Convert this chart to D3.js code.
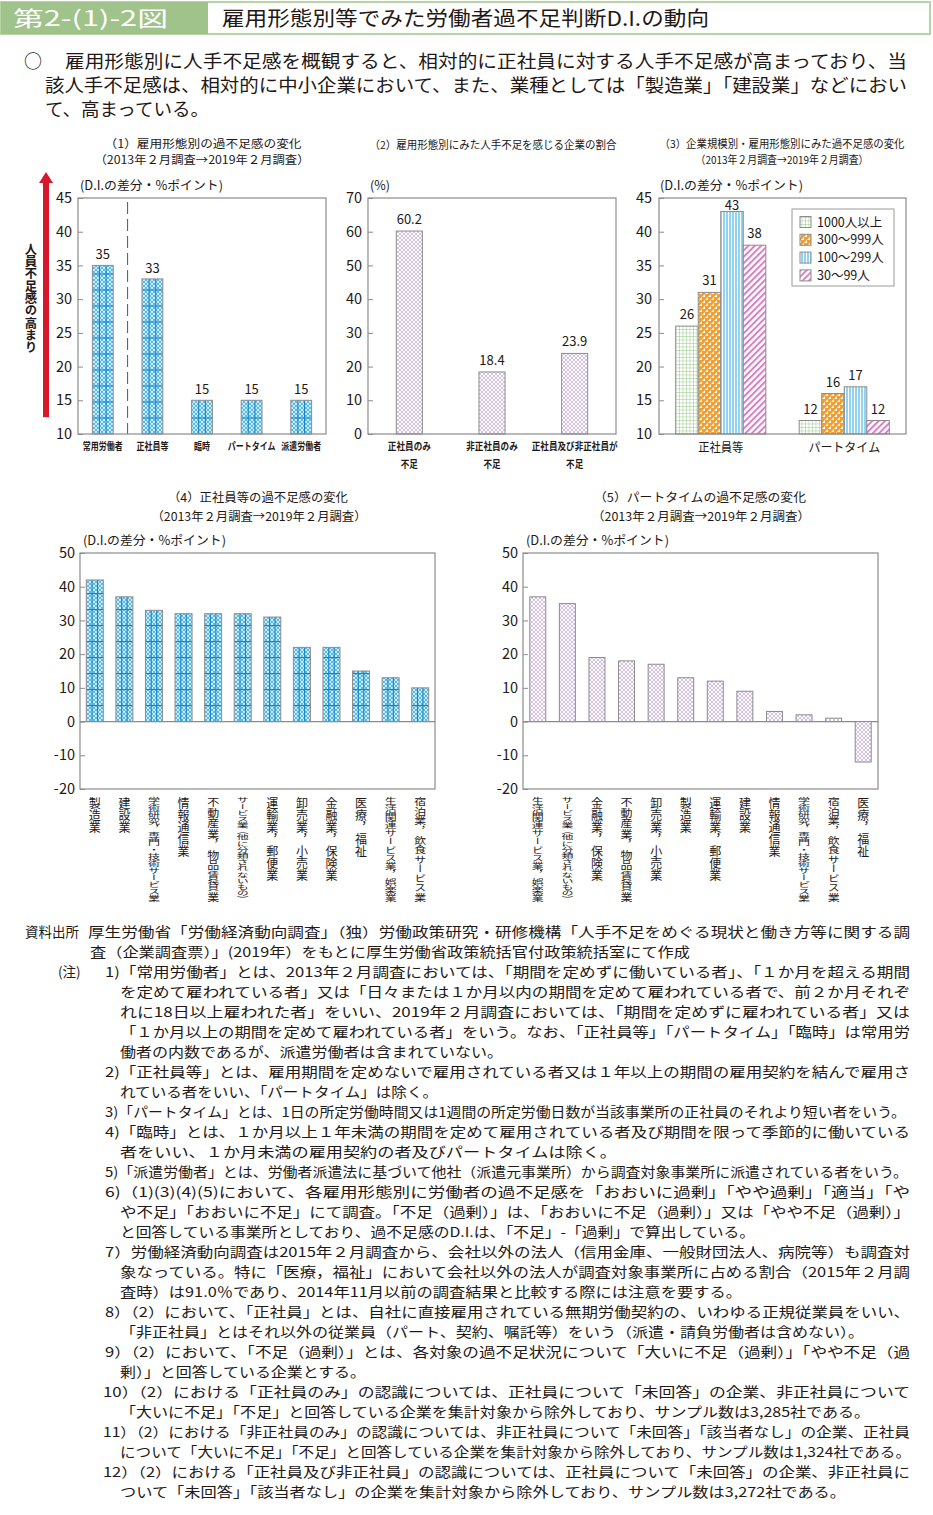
<!DOCTYPE html>
<html><head><meta charset="utf-8">
<script src="https://cdn.jsdelivr.net/npm/d3@7"></script>
<style>
body{margin:0;background:#fff}
svg{display:block}
text{font-family:"Noto Sans CJK JP","Noto Sans",sans-serif;fill:#231815}
</style>
</head><body>
<svg id="c" width="933" height="1515"></svg>
<script>
// ---------------- DATA ----------------
const figNo = "第2-(1)-2図";
const figTitle = "雇用形態別等でみた労働者過不足判断D.I.の動向";
const summaryLines = [
  "雇用形態別に人手不足感を概観すると、相対的に正社員に対する人手不足感が高まっており、当",
  "該人手不足感は、相対的に中小企業において、また、業種としては「製造業」「建設業」などにおい",
  "て、高まっている。"
];
const unitDI = "(D.I.の差分・%ポイント)";
const periodText = "（2013年２月調査→2019年２月調査）";

// (1)
const c1Title = "（1）雇用形態別の過不足感の変化";
const c1Categories = ["常用労働者", "正社員等", "臨時", "パートタイム", "派遣労働者"];
const c1Values = [35, 33, 15, 15, 15];
const c1Ticks = [10, 15, 20, 25, 30, 35, 40, 45];
const c1ArrowLabel = "人員不足感の高まり";

// (2)
const c2Title = "（2）雇用形態別にみた人手不足を感じる企業の割合";
const c2Categories = [["正社員のみ", "不足"], ["非正社員のみ", "不足"], ["正社員及び非正社員が", "不足"]];
const c2Values = [60.2, 18.4, 23.9];
const c2Ticks = [0, 10, 20, 30, 40, 50, 60, 70];

// (3)
const c3Title = "（3）企業規模別・雇用形態別にみた過不足感の変化";
const c3Groups = ["正社員等", "パートタイム"];
const c3Series = ["1000人以上", "300～999人", "100～299人", "30～99人"];
const c3Values = [[26, 31, 43, 38], [12, 16, 17, 12]];
const c3Ticks = [10, 15, 20, 25, 30, 35, 40, 45];

// (4)
const c4Title = "（4）正社員等の過不足感の変化";
const c4Industries = ["製造業", "建設業", "学術研究，専門・技術サービス業", "情報通信業", "不動産業，物品賃貸業",
  "サービス業（他に分類されないもの）", "運輸業，郵便業", "卸売業，小売業", "金融業，保険業", "医療，福祉",
  "生活関連サービス業，娯楽業", "宿泊業，飲食サービス業"];
const c4Values = [42, 37, 33, 32, 32, 32, 31, 22, 22, 15, 13, 10];

// (5)
const c5Title = "（5）パートタイムの過不足感の変化";
const c5Industries = ["生活関連サービス業，娯楽業", "サービス業（他に分類されないもの）", "金融業，保険業",
  "不動産業，物品賃貸業", "卸売業，小売業", "製造業", "運輸業，郵便業", "建設業", "情報通信業",
  "学術研究，専門・技術サービス業", "宿泊業，飲食サービス業", "医療，福祉"];
const c5Values = [37, 35, 19, 18, 17, 13, 12, 9, 3, 2, 1, -12];
const c45Ticks = [-20, -10, 0, 10, 20, 30, 40, 50];

// notes
const sourceLabel = "資料出所";
const noteLabel = "(注)";
const noteLines = [
  "厚生労働省「労働経済動向調査」（独）労働政策研究・研修機構「人手不足をめぐる現状と働き方等に関する調",
  "査（企業調査票）」(2019年）をもとに厚生労働省政策統括官付政策統括室にて作成",
  "1)「常用労働者」とは、2013年２月調査においては、「期間を定めずに働いている者」、「１か月を超える期間",
  "を定めて雇われている者」又は「日々または１か月以内の期間を定めて雇われている者で、前２か月それぞ",
  "れに18日以上雇われた者」をいい、2019年２月調査においては、「期間を定めずに雇われている者」又は",
  "「１か月以上の期間を定めて雇われている者」をいう。なお、「正社員等」「パートタイム」「臨時」は常用労",
  "働者の内数であるが、派遣労働者は含まれていない。",
  "2)「正社員等」とは、雇用期間を定めないで雇用されている者又は１年以上の期間の雇用契約を結んで雇用さ",
  "れている者をいい、「パートタイム」は除く。",
  "3)「パートタイム」とは、1日の所定労働時間又は1週間の所定労働日数が当該事業所の正社員のそれより短い者をいう。",
  "4)「臨時」とは、１か月以上１年未満の期間を定めて雇用されている者及び期間を限って季節的に働いている",
  "者をいい、１か月未満の雇用契約の者及びパートタイムは除く。",
  "5)「派遣労働者」とは、労働者派遣法に基づいて他社（派遣元事業所）から調査対象事業所に派遣されている者をいう。",
  "6)（1)(3)(4)(5)において、各雇用形態別に労働者の過不足感を「おおいに過剰」「やや過剰」「適当」「や",
  "や不足」「おおいに不足」にて調査。「不足（過剰）」は、「おおいに不足（過剰）」又は「やや不足（過剰）」",
  "と回答している事業所としており、過不足感のD.I.は、「不足」-「過剰」で算出している。",
  "7）労働経済動向調査は2015年２月調査から、会社以外の法人（信用金庫、一般財団法人、病院等）も調査対",
  "象なっている。特に「医療，福祉」において会社以外の法人が調査対象事業所に占める割合（2015年２月調",
  "査時）は91.0％であり、2014年11月以前の調査結果と比較する際には注意を要する。",
  "8）（2）において、「正社員」とは、自社に直接雇用されている無期労働契約の、いわゆる正規従業員をいい、",
  "「非正社員」とはそれ以外の従業員（パート、契約、嘱託等）をいう（派遣・請負労働者は含めない）。",
  "9）（2）において、「不足（過剰）」とは、各対象の過不足状況について「大いに不足（過剰）」「やや不足（過",
  "剰）」と回答している企業とする。",
  "10）（2）における「正社員のみ」の認識については、正社員について「未回答」の企業、非正社員について",
  "「大いに不足」「不足」と回答している企業を集計対象から除外しており、サンプル数は3,285社である。",
  "11）（2）における「非正社員のみ」の認識については、非正社員について「未回答」「該当者なし」の企業、正社員",
  "について「大いに不足」「不足」と回答している企業を集計対象から除外しており、サンプル数は1,324社である。",
  "12）（2）における「正社員及び非正社員」の認識については、正社員について「未回答」の企業、非正社員に",
  "ついて「未回答」「該当者なし」の企業を集計対象から除外しており、サンプル数は3,272社である。"
];
// layout of notes: start x & end x per line
const noteStart = [88, 90, 105, 120, 120, 120, 120, 105, 120, 105, 105, 120, 105, 105, 120, 120, 105, 120, 120, 105, 120, 105, 120, 103, 120, 103, 120, 103, 120];
const noteEnd   = [910, 690, 910, 910, 910, 910, 503, 910, 438, 906, 910, 617, 908, 910, 910, 755, 910, 910, 742, 910, 864, 910, 366, 910, 870, 910, 911, 910, 846];

// ---------------- DRAW ----------------
const svg = d3.select("#c");
const defs = svg.append("defs");
const FONT = '"Noto Sans CJK JP","Noto Sans",sans-serif';

function pattern(id, w, h, build, transform) {
  const p = defs.append("pattern").attr("id", id).attr("patternUnits", "userSpaceOnUse")
    .attr("width", w).attr("height", h);
  if (transform) p.attr("patternTransform", transform);
  build(p);
}
pattern("pBlue", 4, 4, p => {
  p.append("rect").attr("width", 4).attr("height", 4).attr("fill", "#49b2e3");
  [[0,0],[4,0],[0,4],[4,4],[2,2]].forEach(([x,y]) =>
    p.append("circle").attr("cx", x).attr("cy", y).attr("r", 1.15).attr("fill", "#d6f0fb"));
});
pattern("pPurple", 4, 4, p => {
  p.append("rect").attr("width", 4).attr("height", 4).attr("fill", "#c6aadd");
  [[0,0],[4,0],[0,4],[4,4],[2,2]].forEach(([x,y]) =>
    p.append("circle").attr("cx", x).attr("cy", y).attr("r", 1.3).attr("fill", "#ffffff"));
});
pattern("pGreen", 3.5, 3.5, p => {
  p.append("rect").attr("width", 3.5).attr("height", 3.5).attr("fill", "#ffffff");
  p.append("path").attr("d", "M0,0H3.5M0,0V3.5").attr("stroke", "#8cc47a").attr("stroke-width", 0.9);
});
pattern("pOrange", 6, 6, p => {
  p.append("rect").attr("width", 6).attr("height", 6).attr("fill", "#f0a033");
  p.append("path").attr("d", "M0,3L3,0V3Z M3,6L6,3V6Z").attr("fill", "#ffffff");
});
pattern("pLBlue", 3, 3, p => {
  p.append("rect").attr("width", 3).attr("height", 3).attr("fill", "#92d3f0");
  p.append("rect").attr("x", 2).attr("width", 1).attr("height", 3).attr("fill", "#ffffff");
});
pattern("pPink", 4.5, 4.5, p => {
  p.append("rect").attr("width", 4.5).attr("height", 4.5).attr("fill", "#ffffff");
  p.append("rect").attr("width", 2).attr("height", 4.5).attr("fill", "#d680c4");
}, "rotate(45)");
const seriesFill = ["url(#pGreen)", "url(#pOrange)", "url(#pLBlue)", "url(#pPink)"];

function txt(g, x, y, s, size, opts = {}) {
  const t = g.append("text").attr("x", x).attr("y", y).attr("font-size", size).text(s);
  if (opts.anchor) t.attr("text-anchor", opts.anchor);
  if (opts.len) t.attr("textLength", opts.len).attr("lengthAdjust", "spacingAndGlyphs");
  if (opts.weight) t.attr("font-weight", opts.weight);
  if (opts.fill) t.style("fill", opts.fill);
  return t;
}
// horizontally condensed, centred label (scale transform so its box shrinks too)
function ctxt(g, cx, y, s, size, sx, weight) {
  return g.append("text").attr("transform", `translate(${cx},${y}) scale(${sx},1)`)
    .attr("text-anchor", "middle").attr("font-size", size).attr("font-weight", weight || 400).text(s);
}

// ---- header ----
svg.append("rect").attr("x", 1).attr("y", 2).attr("width", 929).attr("height", 32)
  .attr("fill", "#fff").attr("stroke", "#b7d4a3").attr("stroke-width", 2);
svg.append("rect").attr("x", 1).attr("y", 2).attr("width", 207).attr("height", 32).attr("fill", "#9fc38b");
txt(svg, 13, 26, figNo, 21, {len: 155, fill: "#ffffff"});
txt(svg, 222, 26, figTitle, 20.5, {len: 487});

// ---- summary ----
txt(svg, 24, 68, "○", 18);
txt(svg, 65, 68, summaryLines[0], 18, {len: 842});
txt(svg, 45, 92, summaryLines[1], 18, {len: 862});
txt(svg, 45, 116, summaryLines[2], 18, {len: 164});

// ---- helpers ----
function yAxis(g, y, ticks, x0, pad) {
  const ax = g.append("g").attr("transform", `translate(${x0},0)`)
    .call(d3.axisLeft(y).tickValues(ticks).tickSize(-5).tickPadding(pad).tickFormat(d => String(d)));
  ax.select(".domain").remove();
  ax.selectAll(".tick line").attr("stroke", "#8c8c8c");
  ax.selectAll(".tick text").attr("font-size", 14.5).attr("font-family", FONT).style("fill", "#231815");
}
function frame(g, x0, x1, yT, yB) {
  g.append("rect").attr("x", x0).attr("y", yT).attr("width", x1 - x0).attr("height", yB - yT)
    .attr("fill", "none").attr("stroke", "#8c8c8c").attr("stroke-width", 1.2);
}
function blueGrid(g, x, w, yTop, yBase) {
  [0.34, 0.66].forEach(f => g.append("line").attr("x1", x + w * f).attr("x2", x + w * f)
    .attr("y1", yTop).attr("y2", yBase).attr("stroke", "#1486c6").attr("stroke-width", 1.1));
  for (let yy = yBase - 16; yy > yTop + 2; yy -= 16)
    g.append("line").attr("x1", x).attr("x2", x + w).attr("y1", yy).attr("y2", yy)
      .attr("stroke", "#1486c6").attr("stroke-width", 1.1);
}
function vLabel(g, x, y, s, size, maxLen) {
  const n = [...s].length;
  const step = Math.min(size, maxLen / n);
  g.append("text").attr("transform", `translate(${x},${y}) scale(1,${step / size})`)
    .attr("font-size", size).style("writing-mode", "vertical-rl").text(s);
}

// ---------- Chart 1 ----------
{
  const g = svg.append("g");
  const X0 = 78, X1 = 326, YT = 198, YB = 434;
  txt(g, 203, 148, c1Title, 11.5, {anchor: "middle", len: 197});
  txt(g, 202, 164, periodText, 11.5, {anchor: "middle", len: 215});
  txt(g, 80, 190, unitDI, 12.5, {len: 143});
  const x = d3.scaleBand().domain(c1Categories).range([X0, X1]).paddingInner(0.58).paddingOuter(0.29);
  const y = d3.scaleLinear().domain([10, 45]).range([YB, YT]);
  const data = c1Categories.map((c, i) => ({c, v: c1Values[i]}));
  data.forEach(d => {
    const bx = x(d.c), bw = x.bandwidth(), top = y(d.v);
    g.append("rect").attr("x", bx).attr("y", top).attr("width", bw).attr("height", YB - top)
      .attr("fill", "url(#pBlue)");
    blueGrid(g, bx, bw, top, YB);
    g.append("rect").attr("x", bx).attr("y", top).attr("width", bw).attr("height", YB - top)
      .attr("fill", "none").attr("stroke", "#8c8c8c").attr("stroke-width", 1);
    txt(g, bx + bw / 2, top - 6, d.v, 13, {anchor: "middle"});
    ctxt(g, bx + bw / 2, 450, d.c, 10, 0.8, 700);
  });
  // dashed separator between first and second category
  const sepX = (x(c1Categories[0]) + x.bandwidth() + x(c1Categories[1])) / 2;
  g.append("line").attr("x1", sepX).attr("x2", sepX).attr("y1", YT + 4).attr("y2", YB)
    .attr("stroke", "#555").attr("stroke-width", 1).attr("stroke-dasharray", "12,5");
  yAxis(g, y, c1Ticks, X0, 6);
  frame(g, X0, X1, YT, YB);
  // red arrow
  const ax = 46;
  g.append("rect").attr("x", ax - 3).attr("y", y(45) - 16).attr("width", 6).attr("height", y(12.5) - y(45) + 16)
    .attr("fill", "#d7182a");
  g.append("path").attr("d", `M${ax},${y(45) - 26}L${ax + 7},${y(45) - 15}L${ax - 7},${y(45) - 15}Z`).attr("fill", "#d7182a");
  g.append("text").attr("x", 31).attr("y", 243).attr("font-size", 12.3).attr("font-weight", 700)
    .style("writing-mode", "vertical-rl").text(c1ArrowLabel);
}

// ---------- Chart 2 ----------
{
  const g = svg.append("g");
  const X0 = 368, X1 = 616, YT = 198, YB = 434;
  txt(g, 493, 149, c2Title, 11, {anchor: "middle", len: 247});
  txt(g, 370, 190, "(%)", 12.5);
  const keys = c2Categories.map(d => d.join(""));
  const x = d3.scaleBand().domain(keys).range([X0, X1]).paddingInner(0.685).paddingOuter(0.3425);
  const y = d3.scaleLinear().domain([0, 70]).range([YB, YT]);
  keys.forEach((k, i) => {
    const bx = x(k), bw = x.bandwidth(), top = y(c2Values[i]);
    g.append("rect").attr("x", bx).attr("y", top).attr("width", bw).attr("height", YB - top)
      .attr("fill", "url(#pPurple)").attr("stroke", "#8c8c8c").attr("stroke-width", 1);
    txt(g, bx + bw / 2, top - 7, d3.format(".1f")(c2Values[i]), 13, {anchor: "middle"});
    c2Categories[i].forEach((line, j) => {
      ctxt(g, bx + bw / 2, 450 + j * 18, line, 10, 0.86, 700);
    });
  });
  yAxis(g, y, c2Ticks, X0, 6);
  frame(g, X0, X1, YT, YB);
}

// ---------- Chart 3 ----------
{
  const g = svg.append("g");
  const X0 = 659, X1 = 906, YT = 198, YB = 434;
  txt(g, 782, 148, c3Title, 11, {anchor: "middle", len: 245});
  txt(g, 782, 164, periodText, 11, {anchor: "middle", len: 173});
  txt(g, 660, 190, unitDI, 12.5, {len: 143});
  const x = d3.scaleBand().domain(c3Groups).range([X0, X1]).paddingInner(0.27).paddingOuter(0.135);
  const xs = d3.scaleBand().domain(c3Series).range([0, x.bandwidth()]);
  const y = d3.scaleLinear().domain([10, 45]).range([YB, YT]);
  c3Groups.forEach((grp, gi) => {
    c3Series.forEach((s, si) => {
      const v = c3Values[gi][si];
      const bx = x(grp) + xs(s), bw = xs.bandwidth(), top = y(v);
      g.append("rect").attr("x", bx).attr("y", top).attr("width", bw).attr("height", YB - top)
        .attr("fill", seriesFill[si]).attr("stroke", "#8c8c8c").attr("stroke-width", 1);
      txt(g, bx + bw / 2, Math.max(top - 7, YT + 12), v, 13, {anchor: "middle"});
    });
    ctxt(g, x(grp) + x.bandwidth() / 2, 452, grp, 12.5, gi === 0 ? 0.9 : 0.96, 400);
  });
  yAxis(g, y, c3Ticks, X0, 7);
  frame(g, X0, X1, YT, YB);
  // legend
  const lg = g.append("g");
  lg.append("rect").attr("x", 792).attr("y", 209).attr("width", 102).attr("height", 77)
    .attr("fill", "#fff").attr("stroke", "#999").attr("stroke-width", 1);
  c3Series.forEach((s, i) => {
    const cy = 222 + i * 17.8;
    lg.append("rect").attr("x", 800).attr("y", cy - 5.5).attr("width", 11).attr("height", 11)
      .attr("fill", seriesFill[i]).attr("stroke", "#8c8c8c").attr("stroke-width", 1);
    txt(lg, 817, cy + 4.5, s, 12.5);
  });
}

// ---------- Chart 4 & 5 ----------
function industryChart(opts) {
  const g = svg.append("g");
  const {X0, X1, cx, title, tlen, plen, cats, vals, fill, bwPad, pad, grid} = opts;
  const YT = 553, YB = 789;
  txt(g, cx, 502, title, 12, {anchor: "middle", len: tlen});
  txt(g, cx + 1, 521, periodText, 12, {anchor: "middle", len: plen});
  txt(g, X0 + 3, 545, unitDI, 12.5, {len: 143});
  const x = d3.scaleBand().domain(cats).range([X0, X1]).paddingInner(bwPad).paddingOuter(bwPad / 2);
  const y = d3.scaleLinear().domain([-20, 50]).range([YB, YT]);
  g.append("line").attr("x1", X0).attr("x2", X1).attr("y1", y(0)).attr("y2", y(0))
    .attr("stroke", "#8c8c8c").attr("stroke-width", 1.2);
  cats.forEach((c, i) => {
    const v = vals[i];
    const bx = x(c), bw = x.bandwidth(), top = y(Math.max(v, 0)), bot = y(Math.min(v, 0));
    g.append("rect").attr("x", bx).attr("y", top).attr("width", bw).attr("height", bot - top)
      .attr("fill", fill);
    if (grid) blueGrid(g, bx, bw, top, bot);
    g.append("rect").attr("x", bx).attr("y", top).attr("width", bw).attr("height", bot - top)
      .attr("fill", "none").attr("stroke", "#8c8c8c").attr("stroke-width", 1);
    vLabel(g, bx + bw / 2, 797, c, 12, 105);
  });
  yAxis(g, y, c45Ticks, X0, pad);
  frame(g, X0, X1, YT, YB);
}
industryChart({X0: 80, X1: 435, cx: 258, title: c4Title, tlen: 180, plen: 215,
  cats: c4Industries, vals: c4Values, fill: "url(#pBlue)", bwPad: 0.425, pad: 5, grid: true});
industryChart({X0: 523, X1: 878, cx: 700, title: c5Title, tlen: 212, plen: 218,
  cats: c5Industries, vals: c5Values, fill: "url(#pPurple)", bwPad: 0.46, pad: 5, grid: false});

// ---------- Notes ----------
{
  const g = svg.append("g");
  const base = 937, lh = 20;
  txt(g, 25, base, sourceLabel, 13.5);
  txt(g, 58, base + 2 * lh, noteLabel, 13.5);
  noteLines.forEach((s, i) => {
    txt(g, noteStart[i], base + i * lh, s, 13.5, {len: noteEnd[i] - noteStart[i]});
  });
}
</script>
</body></html>
